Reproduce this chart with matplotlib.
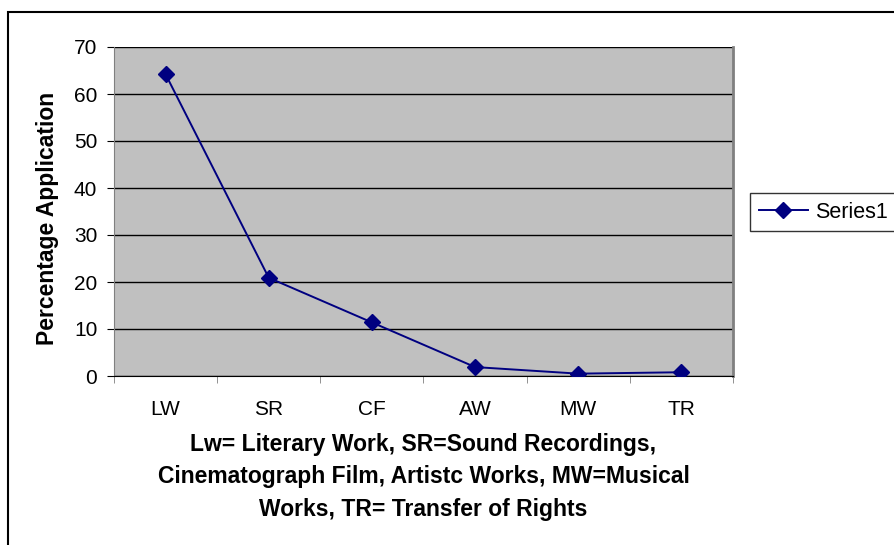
import matplotlib
matplotlib.use("Agg")
import matplotlib.pyplot as plt
from matplotlib.patches import Rectangle
from matplotlib.ticker import FixedLocator

categories = ["LW", "SR", "CF", "AW", "MW", "TR"]
values = [64.2, 20.9, 11.4, 1.9, 0.5, 0.8]
yticks = [0, 10, 20, 30, 40, 50, 60, 70]
series_name = "Series1"
y_title = "Percentage Application"
x_title = ("Lw= Literary Work, SR=Sound Recordings,\n"
           "Cinematograph Film, Artistc Works, MW=Musical\n"
           "Works, TR= Transfer of Rights")

plt.rcParams['font.family'] = ['Liberation Sans', 'DejaVu Sans']

W, H = 895, 545
fig = plt.figure(figsize=(W / 100, H / 100), dpi=100)

# outer chart frame
fig.patches.append(Rectangle((8 / W, -0.1), 1.2, 1 - 12 / H + 0.1, transform=fig.transFigure,
                             fill=False, edgecolor='black', linewidth=1.5, zorder=0))

ax = fig.add_axes([114 / W, 1 - 376 / H, (733 - 114) / W, (376 - 47) / H])
ax.set_facecolor('#C0C0C0')

x = list(range(len(categories)))
line, = ax.plot(x, values, color='#000080', marker='D', markersize=8, linewidth=1.4,
                label=series_name, zorder=3)

ax.set_xlim(-0.5, len(categories) - 0.5)
ax.set_ylim(0, 70)
ax.set_yticks(yticks)
ax.yaxis.grid(True, color='black', linewidth=1)
ax.set_axisbelow(True)

ax.set_xticks(x)
ax.set_xticklabels(categories, fontsize=15)
ax.xaxis.set_minor_locator(FixedLocator([i + 0.5 for i in range(-1, len(categories))]))
ax.tick_params(axis='x', which='major', length=0, pad=17)
ax.tick_params(axis='x', which='minor', length=5, direction='out', color='#808080')
ax.tick_params(axis='y', length=5, direction='out', labelsize=15, pad=7)

ax.spines['top'].set_visible(False)
ax.spines['right'].set_color('#808080')
ax.spines['right'].set_linewidth(2)
ax.spines['left'].set_color('#808080')
ax.spines['bottom'].set_color('black')

fig.text(48 / W, 1 - 218 / H, y_title, rotation=90, ha='center', va='center',
         fontsize=16.5, fontweight='bold')
fig.text(423.5 / W, 1 - 477 / H, x_title, ha='center', va='center',
         fontsize=16.5, fontweight='bold', linespacing=1.52)

leg = fig.legend(handles=[line], loc='upper left', bbox_to_anchor=(750 / W, 1 - 193 / H),
                 frameon=True, fancybox=False, edgecolor='black', fontsize=15.5,
                 handlelength=2.3, borderpad=0.4, handletextpad=0.3, borderaxespad=0)
leg.get_frame().set_linewidth(1)

fig.savefig('out.png', dpi=100)
